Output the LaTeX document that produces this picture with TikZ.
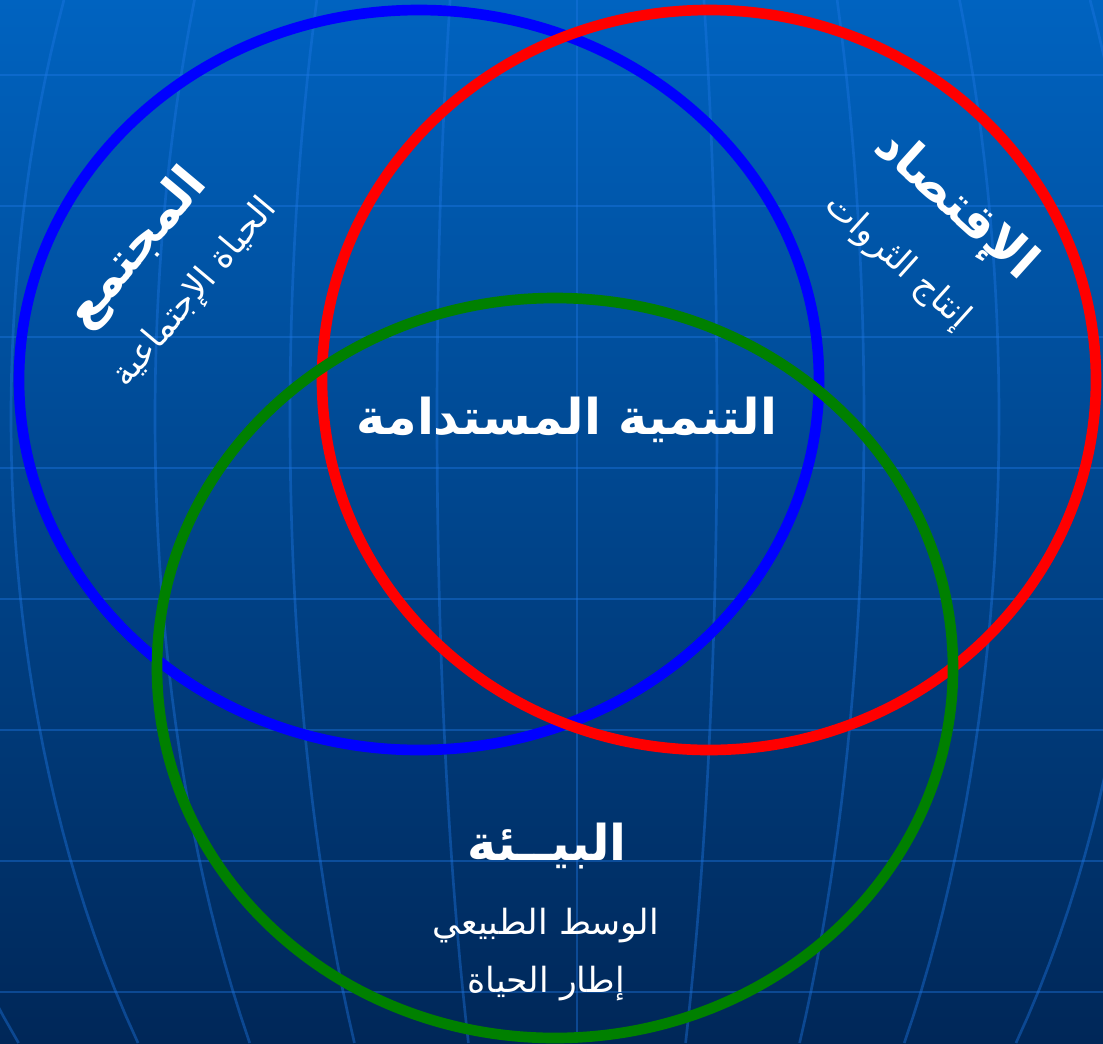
\documentclass[tikz,border=0pt]{standalone}
\usepackage{fontspec}
\newfontfamily\arabicfont[Script=Arabic]{DejaVu Sans}
\TeXXeTstate=1
\usepackage{xcolor}
\usetikzlibrary{positioning}

\definecolor{bgtop}{RGB}{0,99,192}
\definecolor{bgbottom}{RGB}{0,39,88}
\definecolor{gridblue}{RGB}{30,120,230}
\definecolor{ringgreen}{RGB}{0,128,0}

\begin{document}
\begin{tikzpicture}[x=0.75pt, y=-0.75pt,
  every label text/.style={text=white, inner sep=0pt},
  title text/.style={every label text, font=\arabicfont\bfseries\fontsize{37}{44}\selectfont},
  sub text/.style={every label text, font=\arabicfont\fontsize{26}{32}\selectfont},
  ring/.style={line width=8pt},
  grid line/.style={gridblue, opacity=0.4, line width=2pt}]

\useasboundingbox (0,0) rectangle (1103,1043);
\shade [top color=bgtop, bottom color=bgbottom] (0,0) rectangle (1103,1043);

\foreach \y in {0,...,7}
  \draw [grid line] (0,75+131*\y) -- (1103,75+131*\y);

\foreach \k in {-720,-566,-422,-287,-140,0,140,287,422,566,720}
  \draw [grid line] plot [domain=0:1043, samples=40, variable=\t]
    ({577+\k*sqrt(1-((\t-418)/990)^2)},\t);

\draw [ring, blue] (419,380) ellipse [x radius=400, y radius=370];
\draw [ring, red] (709,380) ellipse [x radius=387, y radius=370];
\draw [ring, ringgreen] (555,668) ellipse [x radius=398, y radius=370];

\node [title text] (tanmiya) at (567,420) {\beginR التنمية المستدامة\endR};

\node [title text, rotate=50] (mujtama) at (137,249) {\beginR المجتمع\endR};
\node [sub text, rotate=50] (hayat) at (195,293) {\beginR الحياة الإجتماعية\endR};

\node [title text, rotate=-42] (iqtisad) at (955,206) {\beginR الإقتصاد\endR};
\node [sub text, rotate=-42] (intaj) at (897,262) {\beginR إنتاج الثروات\endR};

\node [title text] (biea) at (547,846) {\beginR البيــئة\endR};
\node [sub text] (wasat) at (546,926) {\beginR الوسط الطبيعي\endR};
\node [sub text] (itar) at (546,984) {\beginR إطار الحياة\endR};

\end{tikzpicture}
\end{document}
